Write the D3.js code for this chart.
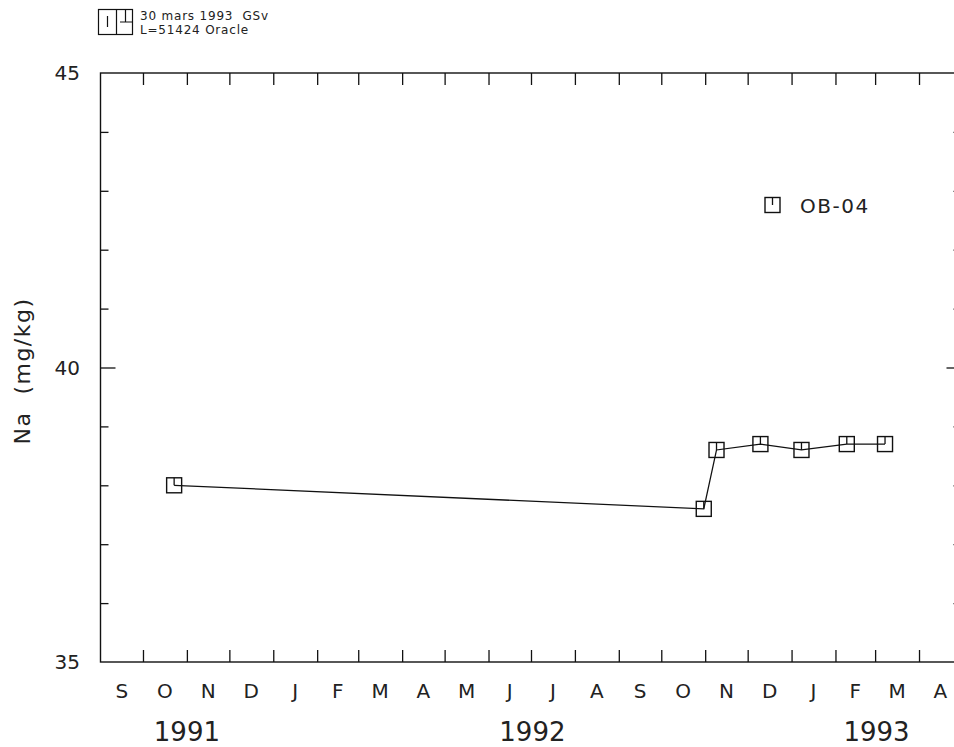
<!DOCTYPE html>
<html>
<head>
<meta charset="utf-8">
<script src="https://cdn.jsdelivr.net/npm/d3@7"></script>
<style>
  html, body { margin: 0; padding: 0; background: #fff; }
  svg { display: block; }
  text { fill: #222; font-family: "DejaVu Sans", sans-serif; }
</style>
</head>
<body>
<svg id="chart" width="954" height="747"></svg>
<script>
// ---- data ----
const sampleDates = ["1991-10-23", "1992-10-31", "1992-11-09", "1992-12-10", "1993-01-08", "1993-02-09", "1993-03-08"];
const naValues = [38.0, 37.6, 38.6, 38.7, 38.6, 38.7, 38.7];
const seriesName = "OB-04";
const monthLabels = ["S","O","N","D","J","F","M","A","M","J","J","A","S","O","N","D","J","F","M","A"];
const yearLabels = ["1991", "1992", "1993"];
const yTickLabels = [35, 40, 45];
const yTitle = "Na  (mg/kg)";
const headerLines = ["30 mars 1993  GSv", "L=51424 Oracle"];

(function () {
// ---- setup ----
const svg = d3.select("#chart");
const parse = d3.utcParse("%Y-%m-%d");
const startDate = new Date(Date.UTC(1991, 8, 1));
const endDate = new Date(Date.UTC(1993, 4, 1));
const pL = 100.5, pR = 961.5, pT = 73, pB = 662;

const x = d3.scaleUtc().domain([startDate, endDate]).range([pL, pR]);
const y = d3.scaleLinear().domain([35, 45]).range([pB, pT]);

const ink = "#111";

// frame
svg.append("rect")
  .attr("x", pL).attr("y", pT)
  .attr("width", pR - pL).attr("height", pB - pT)
  .attr("fill", "none").attr("stroke", ink).attr("stroke-width", 1.4);

// month ticks (bottom & top, inward)
const months = d3.utcMonth.range(startDate, endDate);
const tickMonths = months.slice(1);
svg.append("g")
  .attr("transform", `translate(0,${pB})`)
  .call(d3.axisBottom(x).tickValues(tickMonths).tickSize(-12).tickFormat(""))
  .call(g => g.select(".domain").remove())
  .call(g => g.selectAll("line").attr("stroke", ink).attr("stroke-width", 1.3));
svg.append("g")
  .attr("transform", `translate(0,${pT})`)
  .call(d3.axisTop(x).tickValues(tickMonths).tickSize(-12).tickFormat(""))
  .call(g => g.select(".domain").remove())
  .call(g => g.selectAll("line").attr("stroke", ink).attr("stroke-width", 1.3));

// y ticks (left & right, inward)
const yTicks = d3.range(36, 45, 1);
function yAxisStyle(g) {
  g.select(".domain").remove();
  g.selectAll(".tick line")
    .attr("stroke", ink).attr("stroke-width", 1.3);
}
svg.append("g")
  .attr("transform", `translate(${pL},0)`)
  .call(d3.axisLeft(y).tickValues(yTicks).tickSize(-8).tickFormat(""))
  .call(yAxisStyle)
  .call(g => g.selectAll(".tick line").attr("x2", d => d === 40 ? 15 : 8));
svg.append("g")
  .attr("transform", `translate(${pR},0)`)
  .call(d3.axisRight(y).tickValues(yTicks).tickSize(-8).tickFormat(""))
  .call(yAxisStyle)
  .call(g => g.selectAll(".tick line").attr("x2", d => d === 40 ? -15 : -8));

// y tick labels
svg.append("g").selectAll("text")
  .data(yTickLabels)
  .join("text")
  .attr("x", 80)
  .attr("y", d => y(d) + 7)
  .attr("text-anchor", "end")
  .attr("font-size", 20)
  .text(d => d);

// month labels
svg.append("g").selectAll("text")
  .data(months)
  .join("text")
  .attr("x", d => x(new Date((d.getTime() + d3.utcMonth.offset(d, 1).getTime()) / 2)))
  .attr("y", 698)
  .attr("text-anchor", "middle")
  .attr("font-size", 20)
  .text((d, i) => monthLabels[i]);

// year labels centred on visible part of each year
svg.append("g").selectAll("text")
  .data(yearLabels)
  .join("text")
  .attr("x", d => {
    const yr = +d;
    const a = new Date(Math.max(Date.UTC(yr, 0, 1), startDate.getTime()));
    const b = new Date(Math.min(Date.UTC(yr + 1, 0, 1), endDate.getTime()));
    return (x(a) + x(b)) / 2;
  })
  .attr("y", 741)
  .attr("text-anchor", "middle")
  .attr("font-size", 26)
  .text(d => d);

// y title
svg.append("text")
  .attr("transform", "translate(30,371) rotate(-90)")
  .attr("text-anchor", "middle")
  .attr("font-size", 22)
  .attr("letter-spacing", 1.5)
  .style("white-space", "pre")
  .text(yTitle);

// data
const data = sampleDates.map((d, i) => ({ date: parse(d), value: naValues[i] }));
const line = d3.line().x(d => x(d.date)).y(d => y(d.value));
svg.append("path")
  .datum(data)
  .attr("d", line)
  .attr("fill", "none").attr("stroke", ink).attr("stroke-width", 1.3);

function marker(g, cx, cy) {
  const s = 15;
  g.append("rect")
    .attr("x", cx - s / 2).attr("y", cy - s / 2)
    .attr("width", s).attr("height", s)
    .attr("fill", "none").attr("stroke", ink).attr("stroke-width", 1.4);
  g.append("line")
    .attr("x1", cx).attr("x2", cx)
    .attr("y1", cy - s / 2).attr("y2", cy)
    .attr("stroke", ink).attr("stroke-width", 1.3);
}
const mg = svg.append("g");
data.forEach(d => marker(mg, x(d.date), y(d.value)));

// legend
const lg = svg.append("g");
marker(lg, 772.5, 205);
lg.append("text")
  .attr("x", 800).attr("y", 212.5)
  .attr("font-size", 20)
  .attr("letter-spacing", 1.5)
  .text(seriesName);

// header
const hg = svg.append("g");
hg.append("rect").attr("x", 98.5).attr("y", 9.5).attr("width", 34).attr("height", 25)
  .attr("fill", "none").attr("stroke", ink).attr("stroke-width", 1.2);
hg.append("path")
  .attr("d", "M116.5,9.5 V34.5 M107.5,16 V27 M120,22 H132.5 M125.5,9.5 V22")
  .attr("fill", "none").attr("stroke", ink).attr("stroke-width", 1.2);
hg.selectAll("text")
  .data(headerLines)
  .join("text")
  .attr("x", 140)
  .attr("y", (d, i) => 19.5 + i * 14)
  .attr("font-family", "'DejaVu Sans Mono', monospace")
  .attr("font-size", 12)
  .attr("letter-spacing", 0.8)
  .style("white-space", "pre")
  .text(d => d);
})();
</script>
</body>
</html>
